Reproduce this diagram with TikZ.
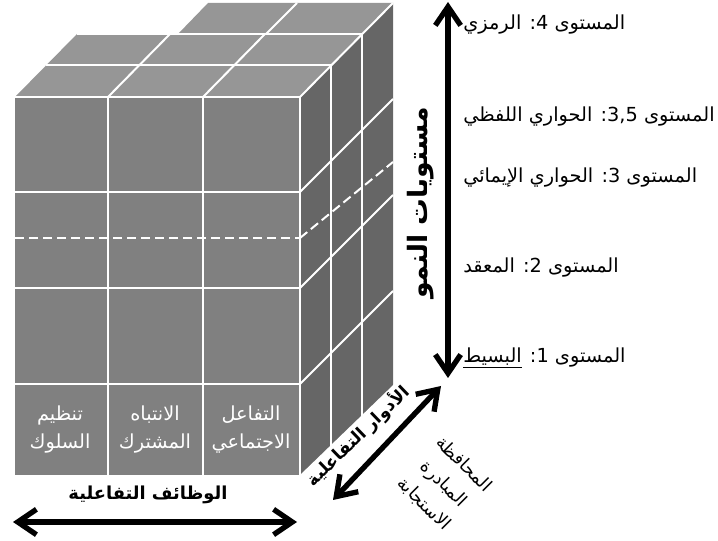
\documentclass[tikz,border=0pt]{standalone}
\usepackage{fontspec}
\setmainfont{DejaVu Sans}
\newfontfamily\ar[Script=Arabic]{DejaVu Sans}
\TeXXeTstate=1
\usetikzlibrary{arrows.meta}
\definecolor{frontc}{RGB}{128,128,128}
\definecolor{topc}{RGB}{150,150,150}
\definecolor{sidec}{RGB}{102,102,102}
\begin{document}
\begin{tikzpicture}[x=0.75pt,y=-0.75pt,
  gridline/.style={white, line width=1.5pt},
  dgridline/.style={white, line width=1.5pt, dash pattern=on 7pt off 3.5pt},
  bigarrow/.style={line width=4pt, {Straight Barb[length=14pt,width=19pt]}-{Straight Barb[length=14pt,width=19pt]}},
  celltext/.style={text=white, align=center, inner sep=0pt, font=\ar\fontsize{14.5}{21}\selectfont},
  levellabel/.style={anchor=west, inner sep=0pt, font=\ar\fontsize{14.5}{16}\selectfont},
  boldlabel/.style={inner sep=0pt, font=\ar\bfseries\fontsize{13.4}{15}\selectfont}
]
\useasboundingbox (0,0) rectangle (718,541);
% faces
\fill[frontc] (15,97) rectangle (300,475);
\fill[topc] (15,97) -- (300,97) -- (362,34) -- (77,34) -- cycle;
\fill[topc] (178,34) -- (362,34) -- (393,3) -- (208,3) -- cycle;
\fill[sidec] (300,97) -- (393,3) -- (393,408) -- (300,476) -- cycle;
% front grid
\draw[gridline] (108,97) -- (108,475);
\draw[gridline] (203,97) -- (203,475);
\draw[gridline] (15,192) -- (300,192);
\draw[gridline] (15,288) -- (300,288);
\draw[gridline] (15,384) -- (300,384);
\draw[dgridline] (15,238) -- (300,238);
\draw[gridline] (15,97) -- (300,97);
\draw[gridline] (300,97) -- (300,476);
% top grid
\draw[gridline] (46,65) -- (331,65);
\draw[gridline] (77,34) -- (362,34);
\draw[gridline] (108,97) -- (170,34);
\draw[gridline] (203,97) -- (265,34);
\draw[gridline] (300,97) -- (393,3);
\draw[gridline] (266,34) -- (297,3);
% right grid
\draw[gridline] (331,65) -- (331,453);
\draw[gridline] (362,34) -- (362,431);
\draw[gridline] (300,192) -- (393,99);
\draw[dgridline] (300,238) -- (393,162);
\draw[gridline] (300,288) -- (393,195);
\draw[gridline] (300,384) -- (393,291);
% cell texts
\node[celltext] (c1) at (60,430) {تنظيم\\السلوك};
\node[celltext] (c2) at (155,430) {الانتباه\\المشترك};
\node[celltext] (c3) at (251,430) {التفاعل\\الاجتماعي};
% axis labels
\node[boldlabel] (xlab) at (148,495) {\beginR الوظائف التفاعلية\endR};
\node[boldlabel, rotate=90, font=\ar\bfseries\fontsize{20}{22}\selectfont] (ylab) at (421,203) {\beginR مستويات النمو\endR};
\node[boldlabel, rotate=44, fill=white, inner sep=1.5pt, font=\ar\bfseries\fontsize{12.9}{15}\selectfont] (zlab) at (358,436) {\beginR الأدوار التفاعلية\endR};
\node[celltext, text=black, rotate=-45, font=\ar\fontsize{13.3}{21}\selectfont] (zvals) at (444,484) {المحافظة\\المبادرة\\الاستجابة};
% arrows
\coordinate (vtop) at (448,2);
\coordinate (vbot) at (448,378);
\coordinate (hl) at (13,522);
\coordinate (hr) at (297,522);
\coordinate (dl) at (333,500);
\coordinate (dr) at (441,386);
\draw[bigarrow] (vbot) -- (vtop);
\draw[bigarrow] (hl) -- (hr);
\draw[bigarrow] (dl) -- (dr);
% level labels
\node[levellabel] (l4) at (463,25) {\beginR المستوى 4: الرمزي\endR};
\node[levellabel] (l35) at (463,117) {\beginR المستوى \beginL 3,5\endL: الحواري اللفظي\endR};
\node[levellabel] (l3) at (463,178) {\beginR المستوى 3: الحواري الإيمائي\endR};
\node[levellabel] (l2) at (463,268) {\beginR المستوى 2: المعقد\endR};
\node[levellabel] (l1) at (463,358) {\beginR المستوى 1: \underline{البسيط}\endR};
\end{tikzpicture}
\end{document}
